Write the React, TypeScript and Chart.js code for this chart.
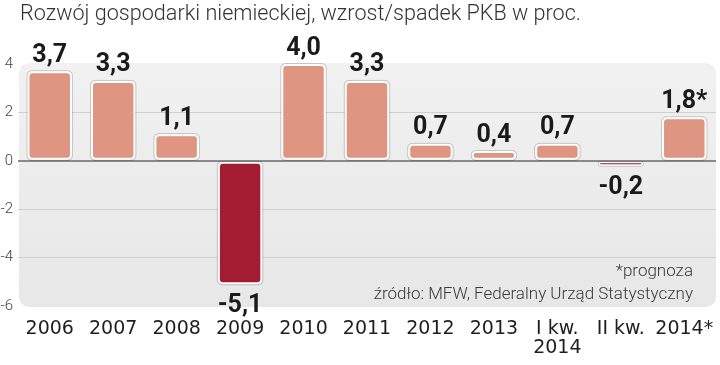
import React, { useEffect, useRef } from "react";
import { Chart, registerables } from "chart.js";

Chart.register(...registerables);

const TITLE = "Rozwój gospodarki niemieckiej, wzrost/spadek PKB w proc.";
const categories: (string | string[])[] = ["2006", "2007", "2008", "2009", "2010", "2011", "2012", "2013", ["I kw.", "2014"], "II kw.", "2014*"];
const growth = [3.7, 3.3, 1.1, -5.1, 4.0, 3.3, 0.7, 0.4, 0.7, -0.2, 1.8];
const labelSuffix = ["", "", "", "", "", "", "", "", "", "", "*"];
const yTicks = [-6, -4, -2, 0, 2, 4];
const notes = ["*prognoza", "źródło: MFW, Federalny Urząd Statystyczny"];

const POS = "#DE9581";
const NEG = "#A31C32";

function roundRect(ctx: CanvasRenderingContext2D, x: number, y: number, w: number, h: number, r: number) {
  r = Math.min(r, h / 2, w / 2);
  ctx.beginPath();
  ctx.moveTo(x + r, y);
  ctx.lineTo(x + w - r, y);
  ctx.quadraticCurveTo(x + w, y, x + w, y + r);
  ctx.lineTo(x + w, y + h - r);
  ctx.quadraticCurveTo(x + w, y + h, x + w - r, y + h);
  ctx.lineTo(x + r, y + h);
  ctx.quadraticCurveTo(x, y + h, x, y + h - r);
  ctx.lineTo(x, y + r);
  ctx.quadraticCurveTo(x, y, x + r, y);
  ctx.closePath();
}

const decor = {
  id: "decor",
  beforeDraw(chart: any) {
    const { ctx, chartArea } = chart;
    const ys = chart.scales.y;
    const top = ys.getPixelForValue(4) - 1;
    const bottom = ys.getPixelForValue(-6) + 1;
    const left = chartArea.left + 1;
    const right = chartArea.right;
    ctx.save();
    const g = ctx.createLinearGradient(0, top, 0, bottom);
    g.addColorStop(0, "#F1F1F1");
    g.addColorStop(1, "#E7E7E7");
    ctx.fillStyle = g;
    roundRect(ctx, left, top, right - left, bottom - top, 12);
    ctx.fill();
    ctx.fillStyle = "#333";
    ctx.font = "300 21.6px Roboto";
    ctx.textBaseline = "alphabetic";
    ctx.textAlign = "left";
    ctx.fillText(TITLE, 20, 20);
    ctx.restore();
  },
  beforeDatasetsDraw(chart: any) {
    const { ctx } = chart;
    const meta = chart.getDatasetMeta(0);
    ctx.save();
    ctx.strokeStyle = "rgba(0,0,0,0.18)";
    ctx.lineWidth = 1;
    meta.data.forEach((bar: any) => {
      const { x, y, base, width } = bar.getProps(["x", "y", "base", "width"], true);
      const t = Math.min(y, base);
      const h = Math.abs(base - y);
      roundRect(ctx, x - width / 2 - 0.5, t - 0.5, width + 1, h + 1, 5);
      ctx.stroke();
    });
    ctx.restore();
  },
  afterDatasetsDraw(chart: any) {
    const { ctx, chartArea } = chart;
    const meta = chart.getDatasetMeta(0);
    ctx.save();
    ctx.fillStyle = "#1a1a1a";
    ctx.font = "bold 25px Roboto";
    ctx.textAlign = "center";
    ctx.textBaseline = "alphabetic";
    meta.data.forEach((bar: any, i: number) => {
      const v = growth[i];
      const txt = v.toFixed(1).replace(".", ",") + labelSuffix[i];
      const { x, y } = bar.getProps(["x", "y"], true);
      if (v >= 0) {
        ctx.fillText(txt, x, y - 9.5);
      } else {
        ctx.fillText(txt, x, y + 28);
      }
    });
    ctx.fillStyle = "#3a3a3a";
    ctx.font = "300 17px Roboto";
    ctx.textAlign = "right";
    ctx.textBaseline = "middle";
    ctx.fillText(notes[0], chartArea.right - 23, 272);
    ctx.fillText(notes[1], chartArea.right - 23, 295);
    ctx.restore();
  },
};

export default function App() {
  const ref = useRef<HTMLCanvasElement>(null);
  useEffect(() => {
    if (!ref.current) return;
    const chart = new Chart(ref.current, {
      type: "bar",
      data: {
        labels: categories,
        datasets: [
          {
            data: growth,
            backgroundColor: growth.map((v) => (v >= 0 ? POS : NEG)),
            borderColor: "#ffffff",
            borderWidth: growth.map((v) => (Math.abs(v) < 0.3 ? 1.5 : 2)),
            borderRadius: 5,
            borderSkipped: false,
            barPercentage: 0.7,
            categoryPercentage: 1,
          },
        ],
      },
      options: {
        animation: false,
        responsive: false,
        maintainAspectRatio: false,
        layout: { padding: { top: 64, right: 4, left: 0, bottom: 0 } },
        plugins: { legend: { display: false }, tooltip: { enabled: false }, title: { display: false } },
        scales: {
          x: {
            grid: { display: false, drawTicks: false },
            border: { display: false },
            ticks: {
              color: "#1e1e1e",
              font: { family: "'DejaVu Sans'", size: 19, lineHeight: 1.0 },
              padding: 14,
              maxRotation: 0,
              autoSkip: false,
            },
            afterFit: (s: any) => {
              s.height = 59;
              s.paddingLeft = 0;
              s.paddingRight = 0;
            },
          },
          y: {
            min: -6,
            max: 4,
            afterBuildTicks: (s: any) => {
              s.ticks = yTicks.map((v) => ({ value: v }));
            },
            grid: {
              drawTicks: false,
              color: (c: any) =>
                c.tick && c.tick.value === 0 ? "#8a8a8a" : c.tick && (c.tick.value === 4 || c.tick.value === -6) ? "rgba(0,0,0,0)" : "#cfcfcf",
              lineWidth: (c: any) => (c.tick && c.tick.value === 0 ? 2 : 1),
            },
            border: { display: false },
            ticks: {
              color: "#444",
              font: { family: "Roboto", size: 15, weight: 300 },
              padding: 5,
            },
            afterFit: (s: any) => {
              s.width = 18;
            },
          },
        },
      },
      plugins: [decor],
    });
    return () => chart.destroy();
  }, []);
  return (
    <div style={{ position: "fixed", left: 0, top: 0, width: 720, height: 365, background: "#fff" }}>
      <canvas ref={ref} width={720} height={365} style={{ width: 720, height: 365, display: "block" }} />
    </div>
  );
}
